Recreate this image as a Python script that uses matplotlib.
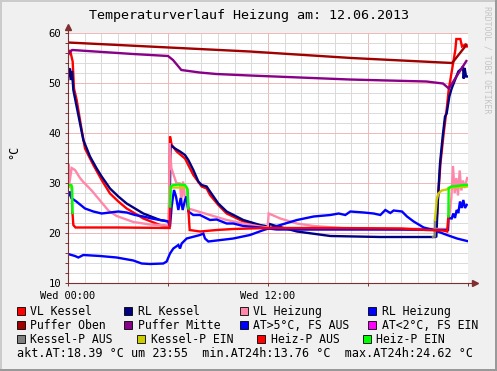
import numpy as np
import matplotlib
matplotlib.use("Agg")
import matplotlib.pyplot as plt
from matplotlib.patches import Rectangle
from matplotlib.ticker import MultipleLocator, FixedLocator, FixedFormatter

nan = np.nan

# --- data (hours since 00:00, temperature in °C) ---
vl_kessel_h = [0, 0.12, 0.28, 0.36, 0.52, 0.8, 1.02, 1.52, 2.02, 2.52, 3.02, 3.52, 4.52, 5.52, 6.05,
               6.12, 6.22, 6.52, 7.02, 7.52, 8.02, 8.32, 8.52, 9.02, 9.52, 10.52, 11.52, 12.32, 14.0,
               18.0, 22.0, 22.1, 22.2, 22.35, 22.54, 22.74, 22.84, 23.04, 23.24, 23.3, 23.54, 23.64,
               23.84, 23.94]
vl_kessel_t = [55.5, 56.6, 54.3, 48.9, 46.6, 41.0, 36.9, 33.6, 30.6, 27.9, 26.3, 24.9, 22.9, 21.6, 21.3,
               39.3, 37.6, 36.3, 34.9, 31.6, 29.3, 28.9, 27.6, 25.6, 23.9, 22.3, 21.4, 20.9, 20.8,
               20.8, 20.7, 21.5, 27.0, 34.0, 39.9, 45.3, 48.6, 52.6, 56.6, 58.8, 58.8, 57.3,
               57.7, 57.3]

rl_kessel_h = [0, 0.05, 0.12, 0.18, 0.24, 0.32, 0.62, 0.92, 1.32, 1.72, 2.02, 2.52, 3.02, 3.52, 4.52,
               5.52, 6.08, 6.16, 6.42, 6.72, 7.02, 7.22, 7.52, 7.82, 8.02, 8.32, 8.52, 9.02, 9.52,
               10.52, 11.52, 12.04, 12.1, 12.38, 13.74, 15.74, 18.74, 22.04, 22.1, 22.2, 22.32,
               22.48, 22.62, 22.72, 22.88, 23.02, 23.22, 23.42, 23.62, 23.7, 23.74, 23.8, 23.88, 23.95]
rl_kessel_t = [50.6, 52.6, 52.9, 50.6, 52.4, 48.6, 43.6, 38.6, 35.3, 32.9, 31.3, 28.9, 27.3, 25.9, 23.9,
               22.6, 22.3, 37.6, 36.9, 36.3, 35.6, 34.6, 32.6, 30.3, 29.6, 29.3, 28.3, 25.9, 24.3,
               22.6, 21.6, 21.3, 21.8, 21.5, 20.3, 19.4, 19.2, 19.2, 19.3, 27.0, 33.9,
               39.3, 43.3, 43.9, 47.3, 48.9, 50.6, 52.3, 52.9, 53.3, 50.9, 53.0, 51.3, 51.3]

vl_heiz_h = [0, 0.05, 0.08, 0.22, 0.42, 0.72, 0.92, 1.42, 1.92, 2.42, 2.92, 3.92, 4.92, 5.92, 6.05,
             6.1, 6.2, 6.5, 6.72, 6.8, 6.9, 7.0, 7.22, 7.52, 8.52, 9.52, 10.52, 11.52, 11.98, 12.04,
             12.74, 13.74, 14.74, 16.74, 22.8, 22.9, 23.0, 23.1, 23.2, 23.3, 23.4, 23.5, 23.6, 23.7,
             23.8, 23.95]
vl_heiz_t = [31.5, 33.8, 29.9, 33.0, 32.6, 31.0, 30.2, 28.5, 26.5, 24.5, 23.4, 22.2, 21.7, 21.5, 21.5,
             38.0, 33.0, 30.0, 29.9, 26.3, 30.3, 27.3, 24.9, 24.6, 23.6, 22.6, 21.9, 21.3, 21.1, 23.9,
             22.9, 21.9, 21.4, 20.9, 20.8, 24.0, 27.0, 33.4, 28.0, 31.0, 27.5, 32.5, 28.5, 30.5,
             29.0, 31.0]

rl_heiz_h = [0, 0.1, 0.2, 0.5, 1.02, 1.52, 2.02, 2.52, 3.02, 3.52, 4.02, 4.52, 5.02, 5.52, 6.02, 6.12,
             6.22, 6.36, 6.48, 6.62, 6.76, 6.88, 7.02, 7.12, 7.22, 7.52, 7.92, 8.52, 8.92, 9.52, 9.92,
             10.52, 11.52, 12.52, 16.0, 20.0, 22.8, 22.82, 23.02, 23.12, 23.22, 23.32, 23.42, 23.52,
             23.62, 23.72, 23.82, 23.92]
rl_heiz_t = [27.3, 28.3, 27.0, 26.3, 24.9, 24.3, 23.9, 24.1, 24.3, 24.1, 23.6, 23.3, 22.9, 22.6, 22.3, 21.3,
             25.3, 28.6, 27.3, 24.6, 27.0, 24.6, 26.6, 27.3, 24.3, 23.6, 23.6, 22.6, 22.7, 21.9, 21.9,
             21.4, 21.1, 20.7, 20.7, 20.7, 20.6, 23.0, 22.9, 23.9, 23.0, 24.6, 24.0, 26.3,
             25.0, 26.6, 25.0, 25.6]

puffer_oben_h = [0, 10.9, 17.0, 23.05, 23.9]
puffer_oben_t = [58.1, 56.3, 55.0, 54.0, 57.6]

puffer_mitte_h = [0, 0.25, 3.9, 6.0, 6.3, 6.8, 7.9, 8.9, 10.9, 16.9, 21.5, 22.5, 22.85, 23.9]
puffer_mitte_t = [55.8, 56.6, 55.8, 55.4, 54.6, 52.6, 52.1, 51.8, 51.5, 50.7, 50.3, 49.9, 48.9, 54.4]

at_h = [0, 0.42, 0.62, 0.92, 1.92, 2.92, 3.92, 4.42, 4.92, 5.72, 5.92, 6.12, 6.32, 6.62, 6.72, 6.82,
        7.12, 7.92, 8.12, 8.22, 8.42, 8.92, 9.92, 10.92, 11.74, 12.74, 13.74, 14.74, 15.74, 16.24,
        16.64, 16.94, 17.74, 18.34, 18.74, 19.04, 19.34, 19.54, 20.04, 20.34, 20.74, 21.34, 21.94,
        22.74, 23.34, 23.94]
at_t = [15.8, 15.4, 15.1, 15.6, 15.4, 15.1, 14.5, 13.9, 13.8, 13.9, 14.3, 15.9, 16.9, 17.6, 16.9, 17.9,
        18.9, 19.6, 19.9, 18.9, 18.3, 18.5, 18.9, 19.6, 20.6, 21.6, 22.6, 23.3, 23.6, 23.9,
        23.6, 24.3, 24.1, 23.9, 23.6, 24.6, 24.0, 24.5, 24.3, 23.3, 22.3, 21.1, 20.6,
        19.6, 18.9, 18.4]

kessel_p_aus_h = [0.22, 0.25, nan, 7.18, 7.22, nan, 21.9, 22.0, 22.02]
kessel_p_aus_t = [29.2, 24.0, nan, 28.5, 25.0, nan, 19.2, 19.3, 22.6]

kessel_p_ein_h = [0, 0.22, nan, 6.12, 6.16, 7.1, 7.18, nan, 22.02, 22.12, 22.22, 22.42, 22.72, 22.82, 23.0, 24.0]
kessel_p_ein_t = [29.2, 29.2, nan, 25.0, 29.1, 29.1, 28.5, nan, 22.6, 26.6, 27.9, 28.5, 28.7, 28.9, 29.1, 29.3]

heiz_p_aus_h = [0.27, 0.32, 0.45, 3.0, 6.1, 6.12, nan, 7.22, 7.3, 7.92, 8.92, 9.92, 10.92, 12.0, 16.0,
                20.0, 21.5, 22.5, 22.75, 22.82]
heiz_p_aus_t = [24.0, 21.6, 21.1, 21.1, 21.0, 25.3, nan, 24.9, 20.6, 20.3, 20.6, 20.8, 20.9, 21.0, 21.0,
                20.9, 20.6, 20.5, 20.3, 23.3]

heiz_p_ein_h = [0, 0.2, 0.25, 0.27, nan, 6.12, 6.16, 6.32, 6.72, 7.02, 7.16, 7.22, nan,
                22.82, 22.84, 23.0, 23.32, 23.72, 24.0]
heiz_p_ein_t = [29.6, 29.6, 29.0, 24.0, nan, 25.3, 29.3, 29.6, 29.7, 29.6, 28.9, 24.9, nan,
                23.3, 29.0, 29.3, 29.4, 29.6, 29.6]

labels = ["VL Kessel", "RL Kessel", "VL Heizung", "RL Heizung",
          "Puffer Oben", "Puffer Mitte", "AT>5°C, FS AUS", "AT<2°C, FS EIN",
          "Kessel-P AUS", "Kessel-P EIN", "Heiz-P AUS", "Heiz-P EIN"]
colors = ["#FF0000", "#000080", "#FF88AA", "#0000FF",
          "#A00000", "#880088", "#0000FF", "#FF00FF",
          "#808080", "#CCCC00", "#FF0000", "#00FF00"]
series = [(vl_kessel_h, vl_kessel_t), (rl_kessel_h, rl_kessel_t), (vl_heiz_h, vl_heiz_t),
          (rl_heiz_h, rl_heiz_t), (puffer_oben_h, puffer_oben_t), (puffer_mitte_h, puffer_mitte_t),
          (at_h, at_t), None, (kessel_p_aus_h, kessel_p_aus_t), (kessel_p_ein_h, kessel_p_ein_t),
          (heiz_p_aus_h, heiz_p_aus_t), (heiz_p_ein_h, heiz_p_ein_t)]

tick_hours = [0, 12]
tick_labels = ["Wed 00:00", "Wed 12:00"]
title = "Temperaturverlauf Heizung am: 12.06.2013"
footer = "akt.AT:18.39 °C um 23:55  min.AT24h:13.76 °C  max.AT24h:24.62 °C"

# --- figure ---
W, H = 497, 371
plt.rcParams["font.family"] = "DejaVu Sans Mono"

fig = plt.figure(figsize=(W / 100, H / 100), dpi=100)
fig.patch.set_facecolor("#F0F0F0")

def fx(x):
    return x / W

def fy(y):
    return 1 - y / H

# shaded border like rrdtool
fig.add_artist(Rectangle((0, fy(2)), 1, 2 / H, transform=fig.transFigure, color="#CBCBCB", lw=0))
fig.add_artist(Rectangle((0, 0), 2 / W, 1, transform=fig.transFigure, color="#CBCBCB", lw=0))
fig.add_artist(Rectangle((0, 0), 1, 2 / H, transform=fig.transFigure, color="#999999", lw=0))
fig.add_artist(Rectangle((fx(W - 2), 0), 2 / W, 1, transform=fig.transFigure, color="#999999", lw=0))

ax = fig.add_axes([fx(68), fy(283), 400 / W, 250 / H])
ax.set_facecolor("white")
ax.set_xlim(0, 24)
ax.set_ylim(10, 60)

axis_col = "#7F2F2F"
for s in ["top", "right"]:
    ax.spines[s].set_visible(False)
for s in ["left", "bottom"]:
    ax.spines[s].set_color(axis_col)
    ax.spines[s].set_linewidth(0.8)

ax.xaxis.set_major_locator(MultipleLocator(6))
ax.xaxis.set_minor_locator(MultipleLocator(1))
ax.yaxis.set_major_locator(MultipleLocator(10))
ax.yaxis.set_minor_locator(MultipleLocator(2))
ax.grid(which="minor", color="#DADADA", lw=0.7)
ax.grid(which="major", color="#EDB8B8", lw=0.7)
ax.set_axisbelow(True)

ax.tick_params(which="both", colors=axis_col, length=2, width=0.7, labelcolor="black",
               labelsize=7.6, pad=3)
ax.tick_params(axis="x", which="minor", length=0)
ax.tick_params(axis="x", which="major", labelbottom=False)

# time labels only at 00:00 and 12:00
sec = ax.secondary_xaxis("bottom")
sec.xaxis.set_major_locator(FixedLocator(tick_hours))
sec.xaxis.set_major_formatter(FixedFormatter(tick_labels))
sec.tick_params(length=0, labelsize=7.4, pad=6)
sec.spines["bottom"].set_visible(False)

for data, col in zip(series, colors):
    if data is None:
        continue
    ax.plot(data[0], data[1], color=col, lw=1.7, solid_joinstyle="miter")

# axis arrows
ax.plot([0, 0], [60, 61.3], color=axis_col, lw=0.8, clip_on=False)
ax.plot([0], [61.3], marker="^", ms=4, color=axis_col, clip_on=False)
ax.plot([24, 24.4], [10, 10], color=axis_col, lw=0.8, clip_on=False)
ax.plot([24.4], [10], marker=">", ms=4, color=axis_col, clip_on=False)

# texts
fig.text(fx(249), fy(16), title, ha="center", va="center", fontsize=9.6)
fig.text(fx(14), fy(152), "°C", ha="center", va="center", rotation=90, fontsize=8.5)
fig.text(fx(487), fy(6), "RRDTOOL / TOBI OETIKER", ha="center", va="top", rotation=270,
         fontsize=5.9, color="#C4C4C4")

# legend
sq_x = [16.7, 124, 240, 368, 16.7, 124, 240, 368, 16.7, 137.3, 256.7, 362.7]
txt_x = [30, 138.3, 253.3, 382.3, 30, 138.3, 253.3, 382.3, 30, 150.7, 270.7, 376]
row_y = [311.2] * 4 + [325.3] * 4 + [339.2] * 4
for lab, col, sx, tx, ry in zip(labels, colors, sq_x, txt_x, row_y):
    fig.add_artist(Rectangle((fx(sx), fy(ry + 4)), 8 / W, 8 / H, transform=fig.transFigure,
                             facecolor=col, edgecolor="black", lw=0.6))
    fig.text(fx(tx), fy(ry), lab, ha="left", va="center", fontsize=8.3)
fig.text(fx(16.7), fy(353.3), footer, ha="left", va="center", fontsize=8.45)

fig.savefig("out.png", dpi=100, facecolor=fig.get_facecolor())
